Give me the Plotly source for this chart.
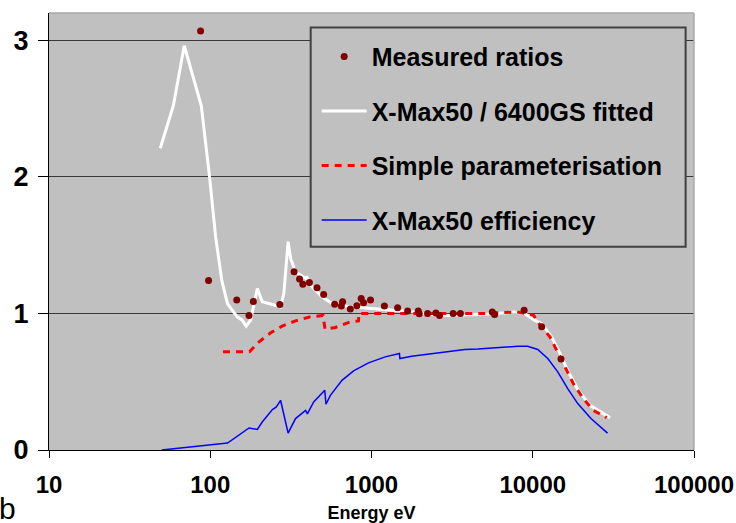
import plotly.graph_objects as go

# ---- data ----
meas_E = [87.1, 97.6, 146, 174, 185, 270, 331, 358, 375, 412, 459, 505, 591, 650, 662,
          739, 811, 863, 893, 986, 1202, 1452, 1675, 1950, 1977, 2227, 2508, 2641, 3206,
          3558, 5610, 5800, 8840, 11370, 14970]
meas_R = [3.069, 1.242, 1.098, 0.985, 1.088, 1.066, 1.305, 1.252, 1.213, 1.227, 1.188, 1.139,
          1.068, 1.054, 1.085, 1.032, 1.056, 1.11, 1.078, 1.098, 1.054, 1.041, 1.017, 1.017,
          0.997, 1.0, 1.004, 0.985, 1.0, 1.0, 1.01, 0.993, 1.024, 0.902, 0.667]

fit_E = [49, 59, 69, 88, 99, 108, 118, 128, 147, 158, 167, 178, 196, 210, 231, 273, 286, 304,
         315, 338, 390, 395, 428, 493, 569, 721, 914, 1216, 1775, 2357, 2985, 5270, 7710, 8890,
         10240, 11350, 13100, 14750, 16630, 19190, 22650, 30100]
fit_R = [2.21, 2.52, 2.96, 2.52, 2.0, 1.56, 1.24, 1.07, 0.975, 0.951, 0.907, 0.951, 1.183, 1.085,
         1.073, 1.048, 1.147, 1.525, 1.403, 1.305, 1.257, 1.27, 1.195, 1.122, 1.073, 1.05, 1.04,
         1.03, 1.012, 0.99, 0.985, 0.995, 1.01, 1.0, 0.951, 0.927, 0.828, 0.707, 0.572, 0.437,
         0.327, 0.237]

param_E = [120, 175, 200, 237, 279, 338, 418, 500, 515, 597, 739, 831, 835, 1000, 2000, 5000,
           8000, 10100, 11100, 12790, 14070, 15850, 17860, 20600, 23770, 28750]
param_R = [0.72, 0.72, 0.79, 0.858, 0.907, 0.946, 0.975, 0.985, 0.885, 0.897, 0.938, 0.945,
           1.0, 1.0, 1.0, 1.0, 1.01, 0.988, 0.914, 0.828, 0.73, 0.608, 0.486, 0.376, 0.29, 0.237]

eff_E = [50, 85, 128, 174, 196, 210, 243, 257, 273, 304, 338, 390, 400, 438, 513, 522, 556, 656,
         774, 958, 1216, 1490, 1500, 1775, 2357, 2985, 3790, 4570, 6080, 6680, 8080, 9300, 10740,
         12390, 14290, 16480, 19010, 22960, 29100]
eff_R = [0.0, 0.026, 0.051, 0.161, 0.151, 0.205, 0.296, 0.315, 0.364, 0.124, 0.23, 0.29, 0.265,
         0.352, 0.437, 0.335, 0.40, 0.51, 0.579, 0.638, 0.682, 0.707, 0.67, 0.687, 0.707, 0.723,
         0.736, 0.74, 0.75, 0.755, 0.76, 0.76, 0.736, 0.67, 0.572, 0.45, 0.34, 0.23, 0.124]

x_ticks = [10, 100, 1000, 10000, 100000]
x_tick_labels = ["10", "100", "1000", "10000", "100000"]
y_ticks = [0, 1, 2, 3]

FONT = "Liberation Sans, Arial, sans-serif"

fig = go.Figure()
fig.add_trace(go.Scatter(x=eff_E, y=eff_R, mode="lines", name="X-Max50 efficiency",
                         line=dict(color="#0000ff", width=1.5), legendgroup="d", legendrank=4))
fig.add_trace(go.Scatter(x=fit_E, y=fit_R, mode="lines", name="X-Max50 / 6400GS fitted",
                         line=dict(color="white", width=3), legendgroup="b", legendrank=2))
fig.add_trace(go.Scatter(x=param_E, y=param_R, mode="lines", name="Simple parameterisation",
                         line=dict(color="#ff0000", width=3, dash="7px,6px"),
                         legendgroup="c", legendrank=3))
fig.add_trace(go.Scatter(x=meas_E, y=meas_R, mode="markers", name="Measured ratios",
                         marker=dict(color="#800000", size=7), legendgroup="a", legendrank=1))

# legend frame (paper coordinates of the reference's boxed legend)
LEG_X0, LEG_X1, LEG_Y0, LEG_Y1 = 0.4057, 0.987, 0.465, 0.967

fig.update_layout(
    width=736, height=523,
    margin=dict(l=49, r=42, t=13, b=73, autoexpand=False),
    paper_bgcolor="white", plot_bgcolor="#c0c0c0",
    font=dict(family=FONT, color="black"),
    legend=dict(x=0.415, y=0.9526, xanchor="left", yanchor="top",
                bgcolor="rgba(0,0,0,0)", borderwidth=0,
                font=dict(family=FONT, size=25, weight="bold", color="black"),
                tracegroupgap=19, itemwidth=45,
                traceorder="grouped"),
    xaxis=dict(type="log", range=[1, 5], tickvals=x_ticks, ticktext=x_tick_labels,
               showgrid=False, showline=True, linecolor="black", linewidth=1,
               ticks="outside", ticklen=7, tickcolor="black", zeroline=False,
               automargin=False,
               tickfont=dict(family=FONT, size=24, weight="bold"),
               ticklabelstandoff=6,
               title=dict(text="Energy eV", font=dict(family=FONT, size=18, weight="bold"),
                          standoff=12)),
    yaxis=dict(range=[0, 3.2], tickvals=y_ticks, showgrid=True, gridcolor="#3a3a3a",
               gridwidth=1, showline=True, linecolor="black", linewidth=1,
               ticks="outside", ticklen=10, tickcolor="black", zeroline=False,
               automargin=False,
               tickfont=dict(family=FONT, size=27, weight="bold"),
               ticklabelstandoff=4),
    shapes=[
        dict(type="line", xref="paper", yref="paper", x0=0, x1=1, y0=1, y1=1,
             line=dict(color="#a8a8a8", width=1.5)),
        dict(type="line", xref="paper", yref="paper", x0=1, x1=1, y0=0, y1=1,
             line=dict(color="#a8a8a8", width=1.5)),
        dict(type="rect", xref="paper", yref="paper", x0=LEG_X0, x1=LEG_X1,
             y0=LEG_Y0, y1=LEG_Y1, layer="above", fillcolor="#c0c0c0",
             line=dict(color="#404040", width=2)),
    ],
    annotations=[
        dict(text="b", xref="paper", yref="paper", x=-0.080, y=-0.135,
             xanchor="left", yanchor="middle", showarrow=False,
             font=dict(family=FONT, size=30, color="black")),
    ],
)

fig.write_html("out.html", config={"displayModeBar": False},
               post_script="document.body.style.margin='0px';")
